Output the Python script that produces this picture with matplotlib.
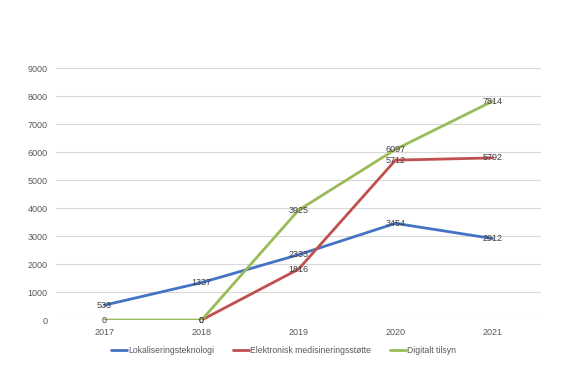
import matplotlib
matplotlib.use("Agg")
import matplotlib.pyplot as plt
import numpy as np

years = ["2017", "2018", "2019", "2020", "2021"]
lokal = [533, 1337, 2333, 3454, 2912]
elektronisk = [None, 0, 1816, 5712, 5792]
digitalt = [0, 0, 3925, 6097, 7814]
series_names = ["Lokaliseringsteknologi", "Elektronisk medisineringsstøtte", "Digitalt tilsyn"]
colors = ["#4472C4", "#C0504D", "#9BBB59"]

plt.rcParams['font.family'] = ['Liberation Sans', 'DejaVu Sans']
fig = plt.figure(figsize=(5.67, 3.70), dpi=100)
ax = fig.add_axes([0.099, 0.135, 0.855, 0.681])

x = np.arange(len(years))
for vals, name, c in zip([lokal, elektronisk, digitalt], series_names, colors):
    xs = [xi for xi, v in zip(x, vals) if v is not None]
    ys = [v for v in vals if v is not None]
    ax.plot(xs, ys, color=c, lw=2.0, label=name, solid_capstyle='round', zorder=3)
    for xi, v in zip(xs, ys):
        ax.text(xi, v, str(v), ha='center', va='center', fontsize=6.5, color='#404040', zorder=4)

ax.set_xlim(-0.5, 4.5)
ax.set_ylim(0, 9000)
ax.set_yticks(range(0, 9001, 1000))
ax.set_xticks(x)
ax.set_xticklabels(years)
ax.tick_params(axis='both', length=0, labelsize=6.5, colors='#595959')
ax.tick_params(axis='x', pad=6)
ax.tick_params(axis='y', pad=6)
ax.grid(axis='y', color='#D9D9D9', lw=0.8, zorder=0)
for s in ax.spines.values():
    s.set_visible(False)
ax.set_axisbelow(True)

leg = fig.legend(loc='center', bbox_to_anchor=(0.5, 0.052), ncol=3, frameon=False,
                 fontsize=6.2, handlelength=1.9, handletextpad=0.1, columnspacing=2.2)
for t in leg.get_texts():
    t.set_color('#595959')

fig.savefig("out.png", dpi=100)
